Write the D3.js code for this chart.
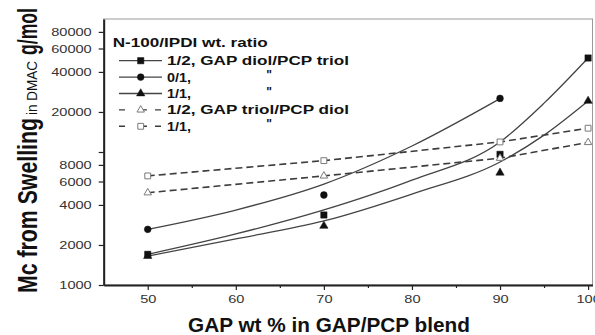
<!DOCTYPE html>
<html>
<head>
<meta charset="utf-8">
<script src="https://cdn.jsdelivr.net/npm/d3@7"></script>
<style>
  body { margin: 0; background: #fff; }
  svg { display: block; font-family: "Liberation Sans", Arial, sans-serif; }
</style>
</head>
<body>
<svg id="chart" width="595" height="335"></svg>
<script>
// GAP wt% where Mc was measured
const gapPct = [50, 70, 90, 100];
const gapPct01 = [50, 70, 90];

const mcDiolTriol12 = [1700, 3360, 9600, 50900];
const mcDiolTriol01 = [2620, 4750, 25300];
const mcDiolTriol11 = [1650, 2780, 6980, 24200];
const mcTriolDiol12 = [4940, 6610, 8980, 11800];
const mcTriolDiol11 = [6610, 8610, 11900, 15100];

// fitted curves for the GAP diol/PCP triol series
const fitPct = [50, 60, 70, 80, 90, 95, 100];
const fitPct01 = [50, 60, 70, 80, 90];
const fitDiolTriol12 = [1700, 2420, 3670, 6150, 11900, 23300, 50900];
const fitDiolTriol01 = [2620, 3660, 5740, 11100, 25200];
const fitDiolTriol11 = [1650, 2220, 3030, 4830, 8410, 13400, 24200];

// axis ticks
const xMajor = [50, 60, 70, 80, 90, 100];
const xMinor = [55, 65, 75, 85, 95];
const yTicks = [1000, 2000, 4000, 6000, 8000, 10000, 20000, 40000, 60000, 80000];

// legend
const legendTitle = "N-100/IPDI wt. ratio";
const legendLabels = ["1/2, GAP diol/PCP triol", "0/1,", "1/1,", "1/2, GAP triol/PCP diol", "1/1,"];
const legendDitto = [false, true, true, false, true];

const svg = d3.select("#chart");

const x = d3.scaleLinear().domain([45, 100.5]).range([103.7, 592.5]);
const y = d3.scaleLog().domain([1000, 100000]).range([285, 19]);

function stretch(sel, w) {
  sel.attr("textLength", w).attr("lengthAdjust", "spacingAndGlyphs");
}

// plot frame
svg.append("rect")
  .attr("x", x(45)).attr("y", y(100000))
  .attr("width", x(100.5) - x(45)).attr("height", y(1000) - y(100000))
  .attr("fill", "none").attr("stroke", "#9a9a9a").attr("stroke-width", 1);

// series definitions
const series = [
  { xs: gapPct, ys: mcDiolTriol12, fx: fitPct, fy: fitDiolTriol12, sym: d3.symbolSquare, size: 40, open: false, dashed: false },
  { xs: gapPct01, ys: mcDiolTriol01, fx: fitPct01, fy: fitDiolTriol01, sym: d3.symbolCircle, size: 36, open: false, dashed: false },
  { xs: gapPct, ys: mcDiolTriol11, fx: fitPct, fy: fitDiolTriol11, sym: d3.symbolTriangle, size: 30, open: false, dashed: false },
  { xs: gapPct, ys: mcTriolDiol12, sym: d3.symbolTriangle, size: 24, open: true, dashed: true },
  { xs: gapPct, ys: mcTriolDiol11, sym: d3.symbolSquare, size: 34, open: true, dashed: true }
];

const line = d3.line().x(d => x(d[0])).y(d => y(d[1]));
const curve = d3.line().x(d => x(d[0])).y(d => y(d[1])).curve(d3.curveMonotoneX);

// dashed connecting lines
series.filter(s => s.dashed).forEach(s => {
  svg.append("path")
    .attr("d", line(s.xs.map((v, i) => [v, s.ys[i]])))
    .attr("fill", "none")
    .attr("stroke", "#3c3c3c")
    .attr("stroke-width", 1.6)
    .attr("stroke-dasharray", "7,4");
});

// solid fitted curves
series.filter(s => !s.dashed).forEach(s => {
  svg.append("path")
    .attr("d", curve(s.fx.map((v, i) => [v, s.fy[i]])))
    .attr("fill", "none")
    .attr("stroke", "#444")
    .attr("stroke-width", 1.3);
});

function drawMarker(g, s, cx, cy) {
  g.append("path")
    .attr("transform", `translate(${cx},${cy})`)
    .attr("d", d3.symbol().type(s.sym).size(s.size)())
    .attr("fill", s.open ? "#fff" : "#111")
    .attr("stroke", s.open ? "#7a7a7a" : "#111")
    .attr("stroke-width", s.open ? 1 : 0.5);
}

// markers
series.forEach(s => {
  s.xs.forEach((v, i) => drawMarker(svg, s, x(v), y(s.ys[i])));
});

// axes
const axisColor = "#222";
const xAxis = svg.append("g")
  .attr("transform", `translate(0,${y(1000)})`)
  .call(d3.axisBottom(x).tickValues(xMajor).tickSize(5).tickSizeOuter(0).tickPadding(5));
const xMinorAxis = svg.append("g")
  .attr("transform", `translate(0,${y(1000)})`)
  .call(d3.axisBottom(x).tickValues(xMinor).tickSize(3).tickFormat(""));
xMinorAxis.select(".domain").remove();

const yAxis = svg.append("g")
  .attr("transform", `translate(${x(45)},0)`)
  .call(d3.axisLeft(y).tickValues(yTicks).tickSize(5).tickSizeOuter(0).tickPadding(7)
    .tickFormat(d => d === 10000 ? "" : String(d)));

[xAxis, xMinorAxis, yAxis].forEach(g => {
  g.select(".domain").attr("stroke", axisColor).attr("stroke-width", 2);
  g.selectAll(".tick line").attr("stroke", axisColor).attr("stroke-width", 1.2);
  g.selectAll(".tick text")
    .attr("fill", "#333")
    .style("font-size", "11px")
    .style("font-family", "'Liberation Sans', Arial, sans-serif")
    .each(function () {
      const t = d3.select(this).text();
      if (t) stretch(d3.select(this), t.length * 8.1);
    });
});

// axis titles
const xTitle = svg.append("text")
  .attr("x", 188).attr("y", 332)
  .attr("font-size", 19.5).attr("font-weight", "bold").attr("fill", "#111")
  .text("GAP wt % in GAP/PCP blend");
stretch(xTitle, 282);

const yTitle = svg.append("g")
  .attr("transform", "translate(36.5,293) rotate(-90) scale(1,1.38)");
stretch(yTitle.append("text")
  .attr("x", 0).attr("y", 0)
  .attr("font-size", 19.5).attr("font-weight", "bold").attr("fill", "#111")
  .text("Mc from Swelling"), 175);
stretch(yTitle.append("text")
  .attr("x", 178).attr("y", 0.5)
  .attr("font-size", 10).attr("fill", "#111")
  .text("in DMAC"), 54);
stretch(yTitle.append("text")
  .attr("x", 238).attr("y", 0)
  .attr("font-size", 19.5).attr("font-weight", "bold").attr("fill", "#111")
  .text("g/mol"), 47);

// legend
const legend = svg.append("g");
stretch(legend.append("text")
  .attr("x", 112.7).attr("y", 47.3)
  .attr("font-size", 12.5).attr("font-weight", "bold").attr("fill", "#111")
  .text(legendTitle), 155);

legendLabels.forEach((lab, i) => {
  const s = series[i];
  const cy = 60.7 + i * 16.4;
  legend.append("line")
    .attr("x1", 119).attr("x2", 162).attr("y1", cy).attr("y2", cy)
    .attr("stroke", s.dashed ? "#3c3c3c" : "#444")
    .attr("stroke-width", s.dashed ? 1.4 : 1.3)
    .attr("stroke-dasharray", s.dashed ? "6,14,8,8" : null);
  drawMarker(legend, s, 140.7, cy);
  const t = legend.append("text")
    .attr("x", 167).attr("y", cy + 4.4)
    .attr("font-size", 12.5).attr("font-weight", "bold").attr("fill", "#111")
    .text(lab);
  stretch(t, lab.length > 6 ? 182 : 24);
  if (legendDitto[i]) {
    legend.append("text")
      .attr("x", 269).attr("y", cy + 2)
      .attr("text-anchor", "middle")
      .attr("font-size", 12).attr("font-weight", "bold").attr("fill", "#111")
      .text("\"");
  }
});
</script>
</body>
</html>
